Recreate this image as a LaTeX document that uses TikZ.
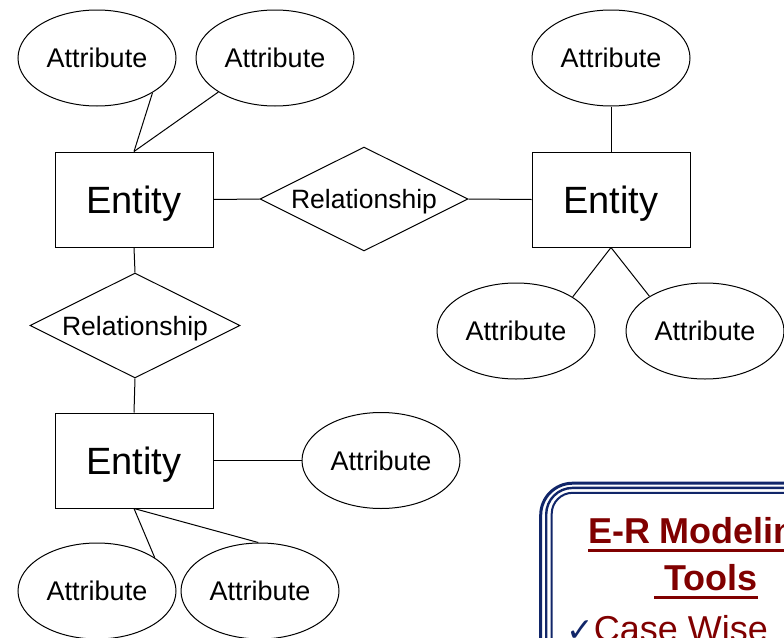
\documentclass[tikz,border=0pt]{standalone}
\usepackage{fontspec}
\setmainfont{Liberation Sans}
\newfontfamily\symfont{DejaVu Sans}
\usetikzlibrary{shapes.geometric}
\definecolor{navy}{RGB}{17,38,105}
\definecolor{darkred}{RGB}{128,0,0}
% underline drawn as a rule below the baseline
\newcommand\ulbox[1]{\setbox0\hbox{#1}\rlap{\vrule width \wd0 height -5.5pt depth 8.5pt}\box0}
\begin{document}
\begin{tikzpicture}[x=1pt,y=-1pt,
  conn/.style={line width=1pt},
  entity/.style={draw, line width=1pt, rectangle, inner sep=0pt,
    minimum width=158pt, minimum height=95pt, text depth=0pt,
    font=\fontsize{38}{44}\selectfont},
  attr/.style={draw, line width=1pt, ellipse, inner sep=0pt,
    minimum width=158pt, minimum height=96pt, text depth=0pt,
    font=\fontsize{27}{32}\selectfont},
  rel/.style={draw, line width=1pt, diamond, aspect=2, inner sep=0pt,
    minimum width=208pt, minimum height=104pt, text depth=0pt,
    font=\fontsize{26.5}{32}\selectfont},
  heading/.style={anchor=base, inner sep=0pt, text=darkred,
    font=\fontsize{36}{44}\selectfont\bfseries}]
\useasboundingbox (0,0) rectangle (784,637);
\clip (0,0) rectangle (784,637);

% entities
\node[entity] (e1) at (134,199.5) {Entity};
\node[entity] (e2) at (611,199.5) {Entity};
\node[entity] (e3) at (134,460.5) {Entity};

% relationships
\node[rel] (r1) at (364,199) {Relationship};
\node[rel, minimum width=210pt, minimum height=105pt] (r2) at (135,325.5) {Relationship};

% attributes
\node[attr] (a1) at (97,58) {Attribute};
\node[attr] (a2) at (275,58) {Attribute};
\node[attr] (a3) at (611,58) {Attribute};
\node[attr] (a4) at (516,331) {Attribute};
\node[attr] (a5) at (705,331) {Attribute};
\node[attr] (a6) at (381,460.5) {Attribute};
\node[attr] (a7) at (97,591) {Attribute};
\node[attr] (a8) at (260,591) {Attribute};

% connectors
\draw[conn] (e1.north) -- (a1.-32);
\draw[conn] (e1.north) -- (a2.211);
\draw[conn] (e1.east) -- (r1.west);
\draw[conn] (r1.east) -- (e2.west);
\draw[conn] (e2.north) -- (a3.south);
\draw[conn] (e2.south) -- (a4.31.5);
\draw[conn] (e2.south) -- (a5.148);
\draw[conn] (e1.south) -- (r2.north);
\draw[conn] (r2.south) -- (e3.north);
\draw[conn] (e3.east) -- (a6.west);
\draw[conn] (e3.south) -- (a7.30.5);
\draw[conn] (e3.south) -- (a8.92);

% framed note with a triple rounded border
\draw[navy, line width=3pt, rounded corners=32pt] (540.7,483.2) rectangle (950,850);
\draw[navy, line width=2.4pt, rounded corners=26.5pt] (546.2,487.9) rectangle (944,844);
\draw[navy, line width=2pt, rounded corners=21pt] (551.7,492.8) rectangle (938,838);

\node[heading] (t1) at (703,543) {\ulbox{E-R Modeling}};
\node[heading] (t2) at (706,590) {\ulbox{\ Tools}};
\node[anchor=base west, inner sep=0pt, font=\fontsize{36}{44}\selectfont] (item) at (566,641)
  {{\symfont\bfseries\fontsize{33}{36}\selectfont\color{navy}✓}{\color{darkred}Case Wise}};
\end{tikzpicture}
\end{document}
